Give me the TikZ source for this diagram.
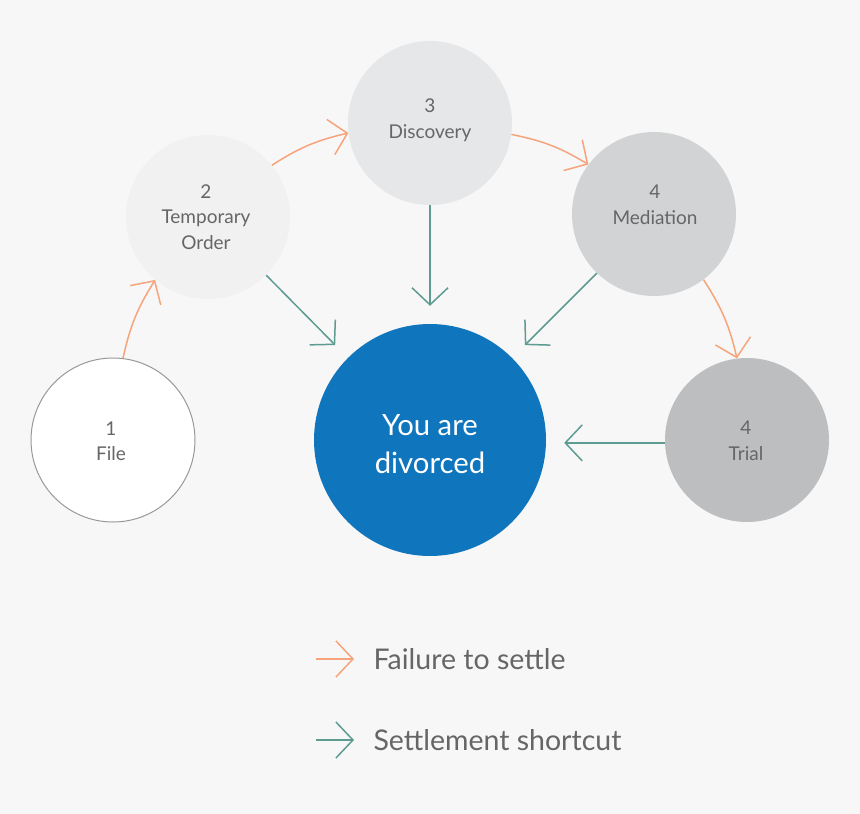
\documentclass[tikz,border=0pt]{standalone}
\usepackage{fontspec}
\setmainfont{Lato}
\usetikzlibrary{arrows.meta}
\definecolor{bg}{HTML}{F7F7F7}
\definecolor{txt}{HTML}{666666}
\definecolor{orangeA}{HTML}{F7A47C}
\definecolor{greenA}{HTML}{5E9B90}
\definecolor{c1}{HTML}{FFFFFF}
\definecolor{c2}{HTML}{F1F1F1}
\definecolor{c3}{HTML}{E6E7E8}
\definecolor{c4}{HTML}{D1D3D4}
\definecolor{c5}{HTML}{BCBEC0}
\definecolor{cdiv}{HTML}{0F75BC}
\begin{document}
\begin{tikzpicture}[x=1pt,y=-1pt,
  stage/.style={circle, minimum size=164pt, inner sep=0pt},
  stagetext/.style={align=center, text=txt, inner sep=0pt,
    font=\fontsize{19}{25.5}\selectfont},
  fail/.style={draw=orangeA, line width=1.5pt, -{Straight Barb[length=17pt,width=36pt]}},
  settle/.style={draw=greenA, line width=1.5pt, -{Straight Barb[length=17pt,width=36pt]}},
  legtext/.style={anchor=west, text=txt, font=\fontsize{28.5}{34}\selectfont}]
\useasboundingbox (0,0) rectangle (860,814);
\fill[bg] (0,0) rectangle (860,814);

\node[stage, fill=c1, draw=gray!80, line width=1pt] (f) at (113,440) {};
\node[stage, fill=c2] (t) at (208,217) {};
\node[stage, fill=c3] (d) at (430,123) {};
\node[stage, fill=c4] (m) at (654,214) {};
\node[stage, fill=c5] (r) at (747,440) {};
\node[circle, minimum size=232pt, inner sep=0pt, fill=cdiv] (v) at (430,440) {};

\node[stagetext] (ft) at (111,441) {1\\File};
\node[stagetext] (tt) at (206,217) {2\\Temporary\\Order};
\node[stagetext] (dt) at (430,120) {3\\Discovery};
\node[stagetext] (mt) at (655,205) {4\\Mediation};
\node[stagetext] (rt) at (746,441) {4\\Trial};
\node[align=center, text=white, inner sep=0pt, font=\fontsize{29.3}{38}\selectfont]
  (vt) at (430,444) {You are\\divorced};

% failure to settle
\draw[fail] (f.83) to[bend left=10] (t.230);
\draw[fail] (t.39) to[bend left=10] (d.187);
\draw[fail] (d.352) to[bend left=10] (m.143);
\draw[fail] (m.307) to[bend left=10] (r.97);

% settlement shortcuts
\draw[settle, shorten >=18pt] (t.315) -- (v.135);
\draw[settle, shorten >=18pt] (d.270) -- (v.90);
\draw[settle, shorten >=18pt] (m.226) -- (v.45);
\draw[settle, shorten >=18pt] (r.182) -- (r.182 -| v.east);

% legend
\coordinate (l1a) at (316,659);
\coordinate (l1b) at (354,659);
\coordinate (l2a) at (316,740);
\coordinate (l2b) at (354,740);
\draw[fail] (l1a) -- (l1b);
\draw[settle] (l2a) -- (l2b);
\node[legtext] (lt1) at (370,659) {Failure to settle};
\node[legtext] (lt2) at (370,740) {Settlement shortcut};
\end{tikzpicture}
\end{document}
